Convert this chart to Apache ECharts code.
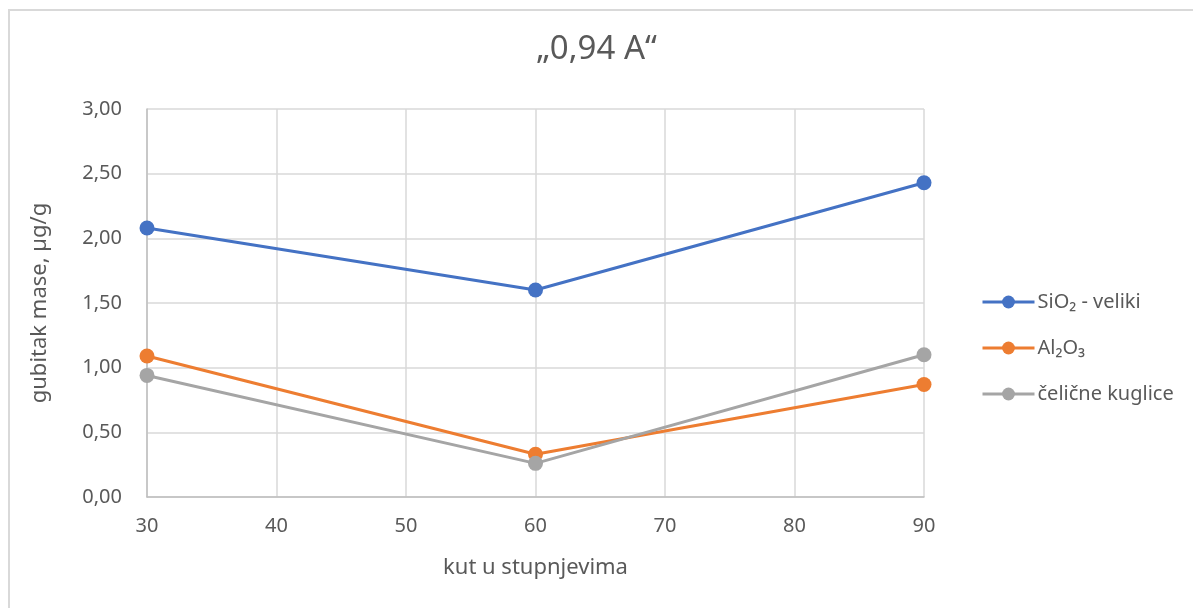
<!DOCTYPE html>
<html>
<head>
<meta charset="utf-8">
<script src="https://cdn.jsdelivr.net/npm/echarts@6/dist/echarts.min.js"></script>
<style>
  html, body { margin: 0; padding: 0; background: #fff; }
  #frame { position: absolute; left: 8px; top: 9px; width: 1200px; height: 620px; border: 2px solid #d9d9d9; box-sizing: border-box; }
  #chart { position: absolute; left: 0; top: 0; width: 1193px; height: 608px; }
</style>
</head>
<body>
<div id="frame"></div>
<div id="chart"></div>
<script>
/* kutovi (x) i gubitak mase (y) */
const angles = [30, 60, 90];
const sio2 = [2.08, 1.60, 2.43];
const al2o3 = [1.09, 0.33, 0.87];
const celicne = [0.94, 0.26, 1.10];
const seriesNames = ['SiO₂ - veliki', 'Al₂O₃', 'čelične kuglice'];
const colors = ['#4472c4', '#ed7d31', '#a5a5a5'];

const font = 'Noto Sans';
const txt = '#595959';

function pairs(vals) {
    return angles.map((a, i) => [a, vals[i]]);
}

const chart = echarts.init(document.getElementById('chart'));
const option = {
    animation: false,
    color: colors,
    textStyle: { fontFamily: font },
    title: {
        text: '„0,94 A“',
        left: 'center',
        top: 28,
        textStyle: { fontFamily: font, fontSize: 33, fontWeight: 'normal', color: txt }
    },
    grid: { left: 147, right: 269, top: 109, bottom: 111 },
    legend: {
        orient: 'vertical',
        left: 976,
        top: 287,
        itemWidth: 52,
        itemHeight: 16,
        itemGap: 26,
        textStyle: { fontFamily: font, fontSize: 20, color: txt, padding: [0, 0, 0, -2] },
        lineStyle: { width: 3 },
        data: seriesNames
    },
    xAxis: {
        type: 'value',
        min: 30,
        max: 90,
        interval: 10,
        name: 'kut u stupnjevima',
        nameLocation: 'middle',
        nameGap: 60,
        nameTextStyle: { fontFamily: font, fontSize: 22, color: txt },
        axisLine: { show: true, lineStyle: { color: '#bfbfbf', width: 1.5 } },
        axisTick: { show: false },
        axisLabel: { fontFamily: font, fontSize: 20, color: txt, margin: 19 },
        splitLine: { show: true, lineStyle: { color: '#d9d9d9', width: 1.5 } }
    },
    yAxis: {
        type: 'value',
        min: 0,
        max: 3,
        interval: 0.5,
        name: 'gubitak mase, µg/g',
        nameLocation: 'middle',
        nameGap: 96,
        nameTextStyle: { fontFamily: font, fontSize: 22, color: txt },
        axisLine: { show: true, lineStyle: { color: '#bfbfbf', width: 1.5 } },
        axisTick: { show: false },
        axisLabel: {
            fontFamily: font, fontSize: 20, color: txt, margin: 25,
            formatter: v => v.toFixed(2).replace('.', ',')
        },
        splitLine: { show: true, lineStyle: { color: '#d9d9d9', width: 1.5 } }
    },
    series: [sio2, al2o3, celicne].map((vals, i) => ({
        name: seriesNames[i],
        type: 'line',
        data: pairs(vals),
        symbol: 'circle',
        symbolSize: 15,
        lineStyle: { width: 3, color: colors[i] },
        itemStyle: { color: colors[i] }
    }))
};
chart.setOption(option);
</script>
</body>
</html>
